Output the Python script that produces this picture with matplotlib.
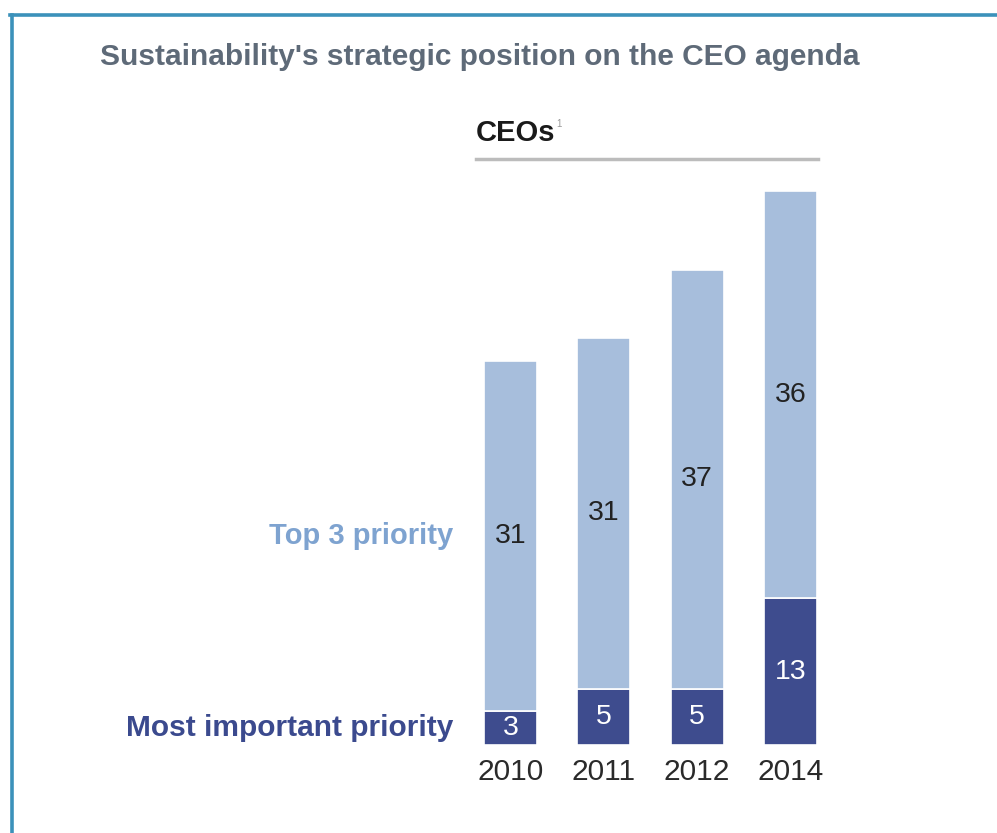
from matplotlib import pyplot as plt
from matplotlib.lines import Line2D
import numpy as np

years = ['2010', '2011', '2012', '2014']
most_important = [3, 5, 5, 13]
top3 = [31, 31, 37, 36]

dark = '#3e4c8e'
light = '#a7bedc'

plt.rcParams['font.family'] = ['Liberation Sans', 'DejaVu Sans']

W, H = 997, 833
fig = plt.figure(figsize=(W / 100, H / 100), dpi=100)

def fx(px):
    return px / W

def fy(py):
    return 1 - py / H

# frame lines on top and left
fig.add_artist(Line2D([fx(10), 1], [fy(15), fy(15)], color='#3b91ba', lw=2.6))
fig.add_artist(Line2D([fx(11.5), fx(11.5)], [fy(15), 0], color='#3b91ba', lw=2.6))

fig.text(fx(100), fy(57), "Sustainability's strategic position on the CEO agenda",
         fontsize=21.5, fontweight='bold', color='#5e6a78', va='center', ha='left')

fig.text(fx(476), fy(133), 'CEOs', fontsize=21, fontweight='bold', color='#1a1a1a',
         va='center', ha='left')
fig.text(fx(556), fy(124), '1', fontsize=7, color='#999999', va='center', ha='left')
fig.add_artist(Line2D([fx(476), fx(818)], [fy(159), fy(159)], color='#bcbcbc', lw=2.5))

# axes placed so the bars sit where the drawing needs them
step = 93.3
x0 = 510.5 - 0.7 * step
ax_w = 4.2 * step
ppu = 11.3
ax_h = 52 * ppu
ax = fig.add_axes([fx(x0), fy(745), ax_w / W, ax_h / H])
ax.set_xlim(-0.7, 3.5)
ax.set_ylim(0, 52)

x = np.arange(len(years))
bw = 0.57
ax.bar(x, most_important, width=bw, color=dark, edgecolor='white', linewidth=1.2)
ax.bar(x, top3, width=bw, bottom=most_important, color=light, edgecolor='white', linewidth=1.2)

for i in range(len(years)):
    ax.text(x[i], most_important[i] / 2, str(most_important[i]), ha='center', va='center',
            fontsize=20.5, color='white')
    ax.text(x[i], most_important[i] + top3[i] / 2, str(top3[i]), ha='center', va='center',
            fontsize=20.5, color='#222222')

lx = -bw / 2 - 0.33
ax.text(lx, most_important[0] + top3[0] / 2, 'Top 3 priority', ha='right', va='center',
        fontsize=21, fontweight='bold', color='#7ea3d0', clip_on=False)
ax.text(lx, most_important[0] / 2, 'Most important priority', ha='right', va='center',
        fontsize=21.5, fontweight='bold', color='#3b4a8e', clip_on=False)

ax.set_xticks(x)
ax.set_xticklabels(years, fontsize=21.5, color='#2a2a2a')
ax.tick_params(axis='x', length=0, pad=9)
ax.set_yticks([])
for s in ax.spines.values():
    s.set_visible(False)

fig.savefig('out.png', dpi=100)
